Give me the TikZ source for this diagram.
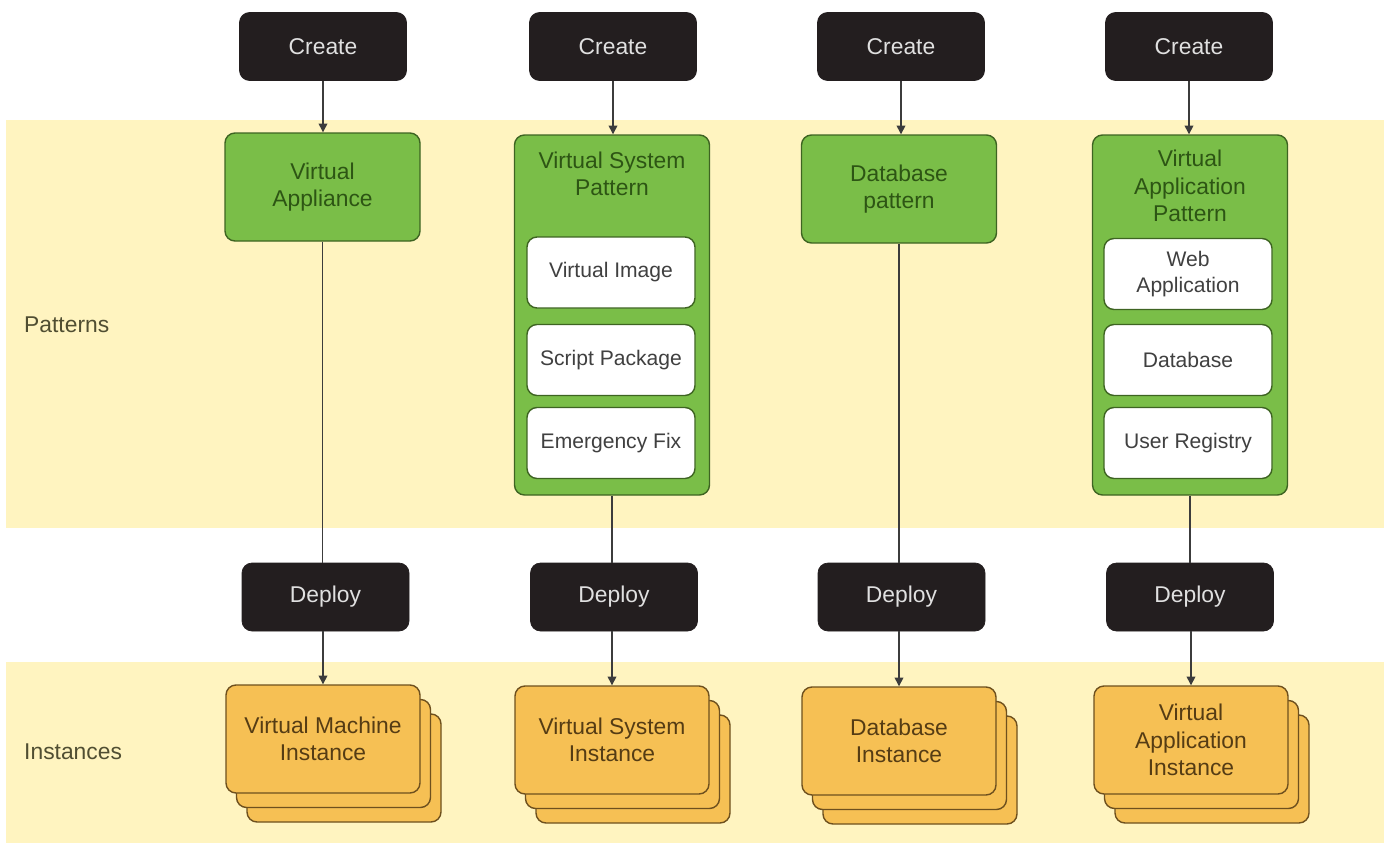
\documentclass[tikz,border=0pt]{standalone}
\usepackage{fontspec}
\setmainfont{Liberation Sans}
\usetikzlibrary{positioning,arrows.meta,shadows}
\definecolor{bandyellow}{RGB}{255,244,192}
\definecolor{patgreen}{RGB}{122,190,72}
\definecolor{patborder}{RGB}{62,100,34}
\definecolor{pattext}{RGB}{45,85,20}
\definecolor{instorange}{RGB}{246,192,84}
\definecolor{instborder}{RGB}{110,80,30}
\definecolor{insttext}{RGB}{85,60,20}
\definecolor{actblack}{RGB}{35,30,31}
\definecolor{linegray}{RGB}{60,60,60}
\definecolor{labelolive}{RGB}{80,78,50}

\begin{document}
\begin{tikzpicture}[
  actbox/.style={draw=actblack, fill=actblack, rounded corners=0.2cm, text=white!88!black,
    minimum width=3.34cm, minimum height=1.36cm, font=\fontsize{13}{15}\selectfont},
  patbox/.style={draw=patborder, thick, fill=patgreen, rounded corners=0.2cm, text=pattext,
    minimum width=3.9cm, align=center, font=\fontsize{13}{15.5}\selectfont},
  partbox/.style={draw=patborder, thick, fill=white, rounded corners=0.2cm, text=black!75,
    minimum width=3.36cm, minimum height=1.42cm, align=center, font=\fontsize{12}{14.5}\selectfont},
  instbox/.style={draw=instborder, thick, fill=instorange, rounded corners=0.2cm, text=insttext,
    minimum width=3.88cm, minimum height=2.16cm, align=center, font=\fontsize{13}{15.5}\selectfont,
    double copy shadow={shadow xshift=0.21cm, shadow yshift=-0.29cm}},
  flow/.style={draw=linegray, thick, -{Triangle[width=5pt,length=5pt]}},
  link/.style={draw=linegray, thick}
]
\useasboundingbox (0,0) rectangle (27.8,-16.86);

% Bands
\fill[bandyellow] (0.12,-2.4) rectangle (27.68,-10.56);
\fill[bandyellow] (0.12,-13.24) rectangle (27.68,-16.86);
\node[anchor=west, text=labelolive, font=\fontsize{13}{15}\selectfont] (patLabel) at (0.36,-6.5) {Patterns};
\node[anchor=west, text=labelolive, font=\fontsize{13}{15}\selectfont] (instLabel) at (0.36,-15.04) {Instances};

% Create steps
\node[actbox] (createVA) at (6.46,-0.93) {Create};
\node[actbox] (createVS) at (12.26,-0.93) {Create};
\node[actbox] (createDB) at (18.02,-0.93) {Create};
\node[actbox] (createAP) at (23.78,-0.93) {Create};

% Patterns
\node[patbox, minimum height=2.16cm] (appliance) at (6.45,-3.74) {Virtual\\Appliance};
\node[patbox, minimum height=7.2cm] (sysPattern) at (12.24,-6.3) {};
\node[text=pattext, align=center, font=\fontsize{13}{15.5}\selectfont] (sysTitle) at (12.24,-3.48) {Virtual System\\Pattern};
\node[partbox] (virtImage) at (12.22,-5.45) {Virtual Image};
\node[partbox] (scriptPkg) at (12.22,-7.2) {Script Package};
\node[partbox] (emergFix) at (12.22,-8.86) {Emergency Fix};
\node[patbox, minimum height=2.16cm] (dbPattern) at (17.98,-3.78) {Database\\pattern};
\node[patbox, minimum height=7.2cm] (appPattern) at (23.8,-6.3) {};
\node[text=pattext, align=center, font=\fontsize{13}{15.5}\selectfont] (appTitle) at (23.8,-3.72) {Virtual\\Application\\Pattern};
\node[partbox] (webApp) at (23.76,-5.48) {Web\\Application};
\node[partbox] (database) at (23.76,-7.2) {Database};
\node[partbox] (userReg) at (23.76,-8.86) {User Registry};

% Deploy steps
\node[actbox] (deployVA) at (6.51,-11.94) {Deploy};
\node[actbox] (deployVS) at (12.28,-11.94) {Deploy};
\node[actbox] (deployDB) at (18.03,-11.94) {Deploy};
\node[actbox] (deployAP) at (23.8,-11.94) {Deploy};

% Instances
\node[instbox] (vmInst) at (6.46,-14.78) {Virtual Machine\\Instance};
\node[instbox] (vsInst) at (12.24,-14.8) {Virtual System\\Instance};
\node[instbox] (dbInst) at (17.98,-14.82) {Database\\Instance};
\node[instbox] (apInst) at (23.82,-14.8) {Virtual\\Application\\Instance};

% Connectors
\draw[flow] (createVA) -- (createVA |- appliance.north);
\draw[flow] (createVS) -- (createVS |- sysPattern.north);
\draw[flow] (createDB) -- (createDB |- dbPattern.north);
\draw[flow] (createAP) -- (createAP |- appPattern.north);

\draw[link] (appliance) -- (appliance |- deployVA.north);
\draw[link] (sysPattern) -- (sysPattern |- deployVS.north);
\draw[link] (dbPattern) -- (dbPattern |- deployDB.north);
\draw[link] (appPattern) -- (appPattern |- deployAP.north);

\draw[flow] (deployVA.south -| vmInst) -- (vmInst);
\draw[flow] (deployVS.south -| vsInst) -- (vsInst);
\draw[flow] (deployDB.south -| dbInst) -- (dbInst);
\draw[flow] (deployAP.south -| apInst) -- (apInst);
\end{tikzpicture}
\end{document}
